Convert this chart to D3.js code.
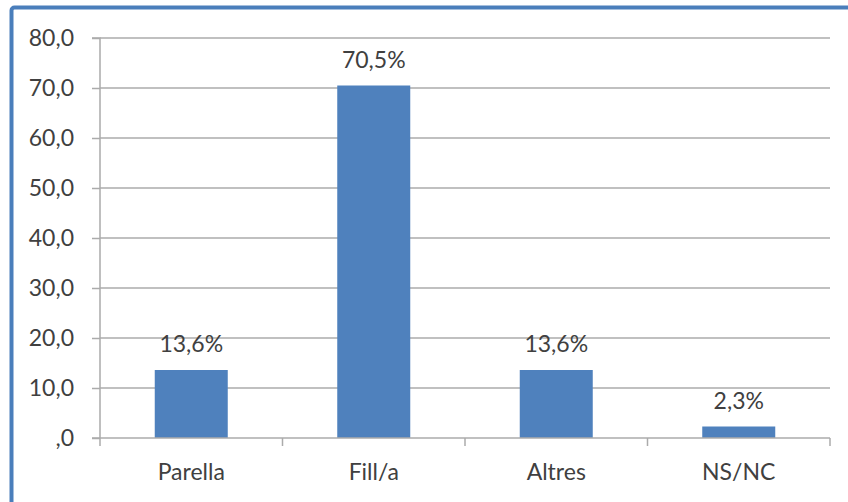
<!DOCTYPE html>
<html><head><meta charset="utf-8">
<script src="https://cdn.jsdelivr.net/npm/d3@7"></script>
<style>html,body{margin:0;padding:0;background:#fff;}svg{display:block;}</style>
</head><body>
<svg id="c" width="848" height="502"></svg>
<script>
const categories = ["Parella", "Fill/a", "Altres", "NS/NC"];
const values = [13.6, 70.5, 13.6, 2.3];
const valueLabels = ["13,6%", "70,5%", "13,6%", "2,3%"];
const yTicks = [0, 10, 20, 30, 40, 50, 60, 70, 80];
const yTickLabels = [",0", "10,0", "20,0", "30,0", "40,0", "50,0", "60,0", "70,0", "80,0"];

(function () {
const svg = d3.select("#c");
const font = "Lato, 'Open Sans', sans-serif";
const fs = 23;
const textColor = "#404040";
const gridColor = "#ababab";

// chart border (cropped at right/bottom)
svg.append("rect").attr("x", 11.5).attr("y", 7.5).attr("width", 860).attr("height", 520)
  .attr("rx", 3).attr("fill", "#fff").attr("stroke", "#4a7ebb").attr("stroke-width", 4);

const pLeft = 100, pRight = 830, pTop = 38, pBottom = 438;
const x = d3.scaleBand().domain(categories).range([pLeft, pRight]).paddingInner(0.6).paddingOuter(0.3);
const xb = d3.scaleBand().domain(categories).range([pLeft, pRight]);
const y = d3.scaleLinear().domain([0, 80]).range([pBottom, pTop]);

// gridlines
svg.append("g").selectAll("line").data(yTicks.filter(d => d > 0)).join("line")
  .attr("x1", pLeft).attr("x2", pRight).attr("y1", d => y(d)).attr("y2", d => y(d))
  .attr("stroke", gridColor).attr("stroke-width", 1.5);

// y axis
const yAxis = d3.axisLeft(y).tickValues(yTicks).tickSize(8).tickPadding(18)
  .tickFormat((d, i) => yTickLabels[i]);
const gy = svg.append("g").attr("transform", `translate(${pLeft},0)`).call(yAxis);
gy.select(".domain").attr("stroke", gridColor).attr("stroke-width", 1.5).attr("d", `M-8,${pTop}H0V${pBottom}`);
gy.selectAll(".tick line").attr("stroke", gridColor).attr("stroke-width", 1.5);
gy.selectAll(".tick text").attr("font-family", font).attr("font-size", fs).attr("fill", textColor);

// bars
svg.append("g").selectAll("rect").data(values).join("rect")
  .attr("x", (d, i) => x(categories[i])).attr("width", x.bandwidth())
  .attr("y", d => y(d)).attr("height", d => pBottom - y(d))
  .attr("fill", "#4f81bd");

// x axis
const gx = svg.append("g").attr("transform", `translate(0,${pBottom})`);
gx.append("line").attr("x1", pLeft - 8).attr("x2", pRight).attr("y1", 0).attr("y2", 0)
  .attr("stroke", gridColor).attr("stroke-width", 1.5);
const bounds = categories.map(c => xb(c) + xb.bandwidth()).concat([pLeft]);
gx.selectAll("line.t").data(bounds).join("line").attr("class", "t")
  .attr("x1", d => d).attr("x2", d => d).attr("y1", 0).attr("y2", 8)
  .attr("stroke", gridColor).attr("stroke-width", 1.5);
gx.selectAll("text").data(categories).join("text")
  .attr("x", c => xb(c) + xb.bandwidth() / 2).attr("y", 42)
  .attr("text-anchor", "middle").attr("font-family", font).attr("font-size", fs)
  .attr("fill", textColor).text(c => c);

// value labels
svg.append("g").selectAll("text").data(values).join("text")
  .attr("x", (d, i) => x(categories[i]) + x.bandwidth() / 2).attr("y", d => y(d) - 18)
  .attr("text-anchor", "middle").attr("font-family", font).attr("font-size", fs)
  .attr("fill", textColor).text((d, i) => valueLabels[i]);
})();
</script>
</body></html>
